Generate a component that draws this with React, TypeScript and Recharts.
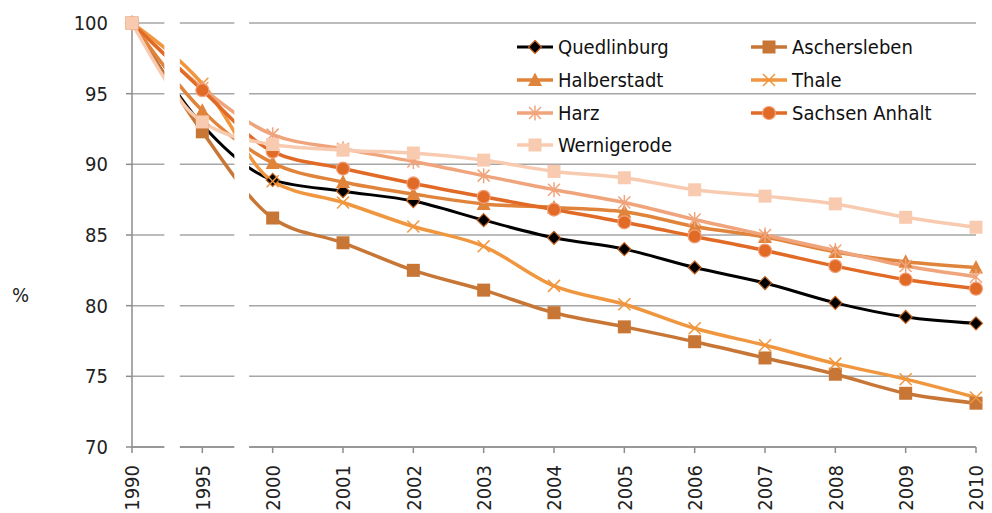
import React from "react";
import { CartesianGrid, Line, LineChart, ReferenceArea, XAxis, YAxis } from "recharts";

const years = ["1990", "1995", "2000", "2001", "2002", "2003", "2004", "2005", "2006", "2007", "2008", "2009", "2010"];

const quedlinburg = [100, 92.8, 88.9, 88.1, 87.4, 86.05, 84.8, 84.0, 82.7, 81.6, 80.2, 79.2, 78.75];
const aschersleben = [100, 92.3, 86.2, 84.45, 82.5, 81.1, 79.5, 78.5, 77.45, 76.3, 75.15, 73.8, 73.1];
const halberstadt = [100, 93.8, 90.1, 88.75, 87.9, 87.2, 86.95, 86.65, 85.6, 84.85, 83.8, 83.1, 82.7];
const thale = [100, 95.7, 88.8, 87.3, 85.6, 84.2, 81.4, 80.1, 78.4, 77.2, 75.9, 74.8, 73.5];
const harz = [100, 95.4, 92.1, 91.1, 90.2, 89.2, 88.2, 87.3, 86.1, 85.0, 83.9, 82.8, 82.05];
const sachsenAnhalt = [100, 95.25, 90.9, 89.7, 88.65, 87.7, 86.8, 85.9, 84.9, 83.9, 82.8, 81.85, 81.2];
const wernigerode = [100, 93.0, 91.4, 91.0, 90.8, 90.3, 89.5, 89.05, 88.2, 87.75, 87.2, 86.25, 85.55];

const yTicks = [70, 75, 80, 85, 90, 95, 100];

const FONT = "'DejaVu Sans Condensed', 'Open Sans', sans-serif";

type Shape = "diamond" | "square" | "triangle" | "x" | "star" | "circle";

const series: { key: string; name: string; values: number[]; color: string; shape: Shape; width: number; fill: string; edge: string }[] = [
  { key: "q", name: "Quedlinburg", values: quedlinburg, color: "#000000", shape: "diamond", width: 3, fill: "#000000", edge: "#c0601e" },
  { key: "a", name: "Aschersleben", values: aschersleben, color: "#c87636", shape: "square", width: 3.5, fill: "#c87636", edge: "#c87636" },
  { key: "h", name: "Halberstadt", values: halberstadt, color: "#e0843c", shape: "triangle", width: 3.5, fill: "#e0843c", edge: "#e0843c" },
  { key: "t", name: "Thale", values: thale, color: "#f0963e", shape: "x", width: 3.5, fill: "#f0963e", edge: "#f0963e" },
  { key: "z", name: "Harz", values: harz, color: "#f0a47c", shape: "star", width: 3.5, fill: "#f0a47c", edge: "#f0a47c" },
  { key: "s", name: "Sachsen Anhalt", values: sachsenAnhalt, color: "#e06a26", shape: "circle", width: 3.5, fill: "#e06a26", edge: "#f2a07a" },
  { key: "w", name: "Wernigerode", values: wernigerode, color: "#f8cbb0", shape: "square", width: 3.5, fill: "#f8cbb0", edge: "#f8cbb0" },
];

const data = years.map((y, i) => {
  const row: Record<string, number | string> = { idx: i, year: y };
  series.forEach((s) => {
    row[s.key] = s.values[i];
  });
  return row;
});

function Marker({ cx, cy, shape, fill, edge, color }: { cx: number; cy: number; shape: Shape; fill: string; edge: string; color: string }) {
  if (cx == null || cy == null) return null;
  switch (shape) {
    case "diamond":
      return <path d={`M${cx},${cy - 6.5}L${cx + 6.5},${cy}L${cx},${cy + 6.5}L${cx - 6.5},${cy}Z`} fill={fill} stroke={edge} strokeWidth={1.2} />;
    case "square":
      return <rect x={cx - 6.5} y={cy - 6.5} width={13} height={13} fill={fill} />;
    case "triangle":
      return <path d={`M${cx},${cy - 7.5}L${cx + 7},${cy + 6}L${cx - 7},${cy + 6}Z`} fill={fill} />;
    case "x":
      return <path d={`M${cx - 6},${cy - 6}L${cx + 6},${cy + 6}M${cx + 6},${cy - 6}L${cx - 6},${cy + 6}`} stroke={color} strokeWidth={1.5} fill="none" />;
    case "star":
      return (
        <path
          d={`M${cx - 6},${cy - 6}L${cx + 6},${cy + 6}M${cx + 6},${cy - 6}L${cx - 6},${cy + 6}M${cx},${cy - 7.5}L${cx},${cy + 7.5}`}
          stroke={color}
          strokeWidth={1.5}
          fill="none"
        />
      );
    case "circle":
      return <circle cx={cx} cy={cy} r={6.5} fill={fill} stroke={edge} strokeWidth={1.2} />;
  }
  return null;
}

const XTick = (props: any) => {
  const { x, y, payload } = props;
  return (
    <g transform={`translate(${x},${y})`}>
      <text transform="rotate(-90)" x={-10} y={0} dy="0.36em" textAnchor="end" fill="#222" fontSize={20} fontFamily={FONT}>
        {years[payload.value]}
      </text>
    </g>
  );
};

const LegendBox = () => (
  <div
    style={{
      position: "absolute",
      left: 515,
      top: 31,
      display: "grid",
      gridTemplateColumns: "234px 200px",
      gridAutoRows: "32.7px",
      fontFamily: FONT,
      fontSize: 20,
      color: "#111",
    }}
  >
    {series.map((s) => (
      <div key={s.key} style={{ display: "flex", alignItems: "center", whiteSpace: "nowrap" }}>
        <svg width={40} height={20} style={{ marginRight: 3 }}>
          <line x1={2} y1={10} x2={38} y2={10} stroke={s.color} strokeWidth={s.width} />
          <Marker cx={20} cy={10} shape={s.shape} fill={s.fill} edge={s.edge} color={s.color} />
        </svg>
        <span>{s.name}</span>
      </div>
    ))}
  </div>
);

export default function App() {
  return (
    <div style={{ position: "absolute", left: 0, top: 0, width: 992, height: 513, background: "#fff" }}>
      <LineChart width={992} height={513} data={data} margin={{ top: 23, right: 16, left: 0, bottom: 0 }}>
        <CartesianGrid vertical={false} stroke="#a6a6a6" strokeWidth={1.5} />
        <XAxis
          dataKey="idx"
          type="number"
          domain={[0, 12]}
          ticks={years.map((_, i) => i)}
          interval={0}
          height={66}
          tick={<XTick />}
          tickSize={6}
          stroke="#8c8c8c"
          strokeWidth={1.5}
        />
        <YAxis
          domain={[70, 100]}
          ticks={yTicks}
          width={132}
          tickSize={6}
          tickMargin={18}
          stroke="#8c8c8c"
          strokeWidth={1.5}
          tick={{ fill: "#222", fontSize: 20, fontFamily: FONT }}
          label={{ value: "%", position: "insideLeft", offset: 12, dy: 60, fill: "#222", fontSize: 20, fontFamily: FONT }}
        />
        {series.map((s) => (
          <Line
            key={s.key}
            type="monotone"
            dataKey={s.key}
            name={s.name}
            stroke={s.color}
            strokeWidth={s.width}
            isAnimationActive={false}
            activeDot={false}
            dot={(p: any) => <Marker key={`${s.key}-${p.index}`} cx={p.cx} cy={p.cy} shape={s.shape} fill={s.fill} edge={s.edge} color={s.color} />}
          />
        ))}
        <ReferenceArea x1={0.46} x2={0.68} y1={69.55} y2={100.4} fill="#ffffff" fillOpacity={1} stroke="none" ifOverflow="visible" zIndex={1500} />
        <ReferenceArea x1={1.455} x2={1.665} y1={69.55} y2={100.4} fill="#ffffff" fillOpacity={1} stroke="none" ifOverflow="visible" zIndex={1500} />
      </LineChart>
      <LegendBox />
    </div>
  );
}
